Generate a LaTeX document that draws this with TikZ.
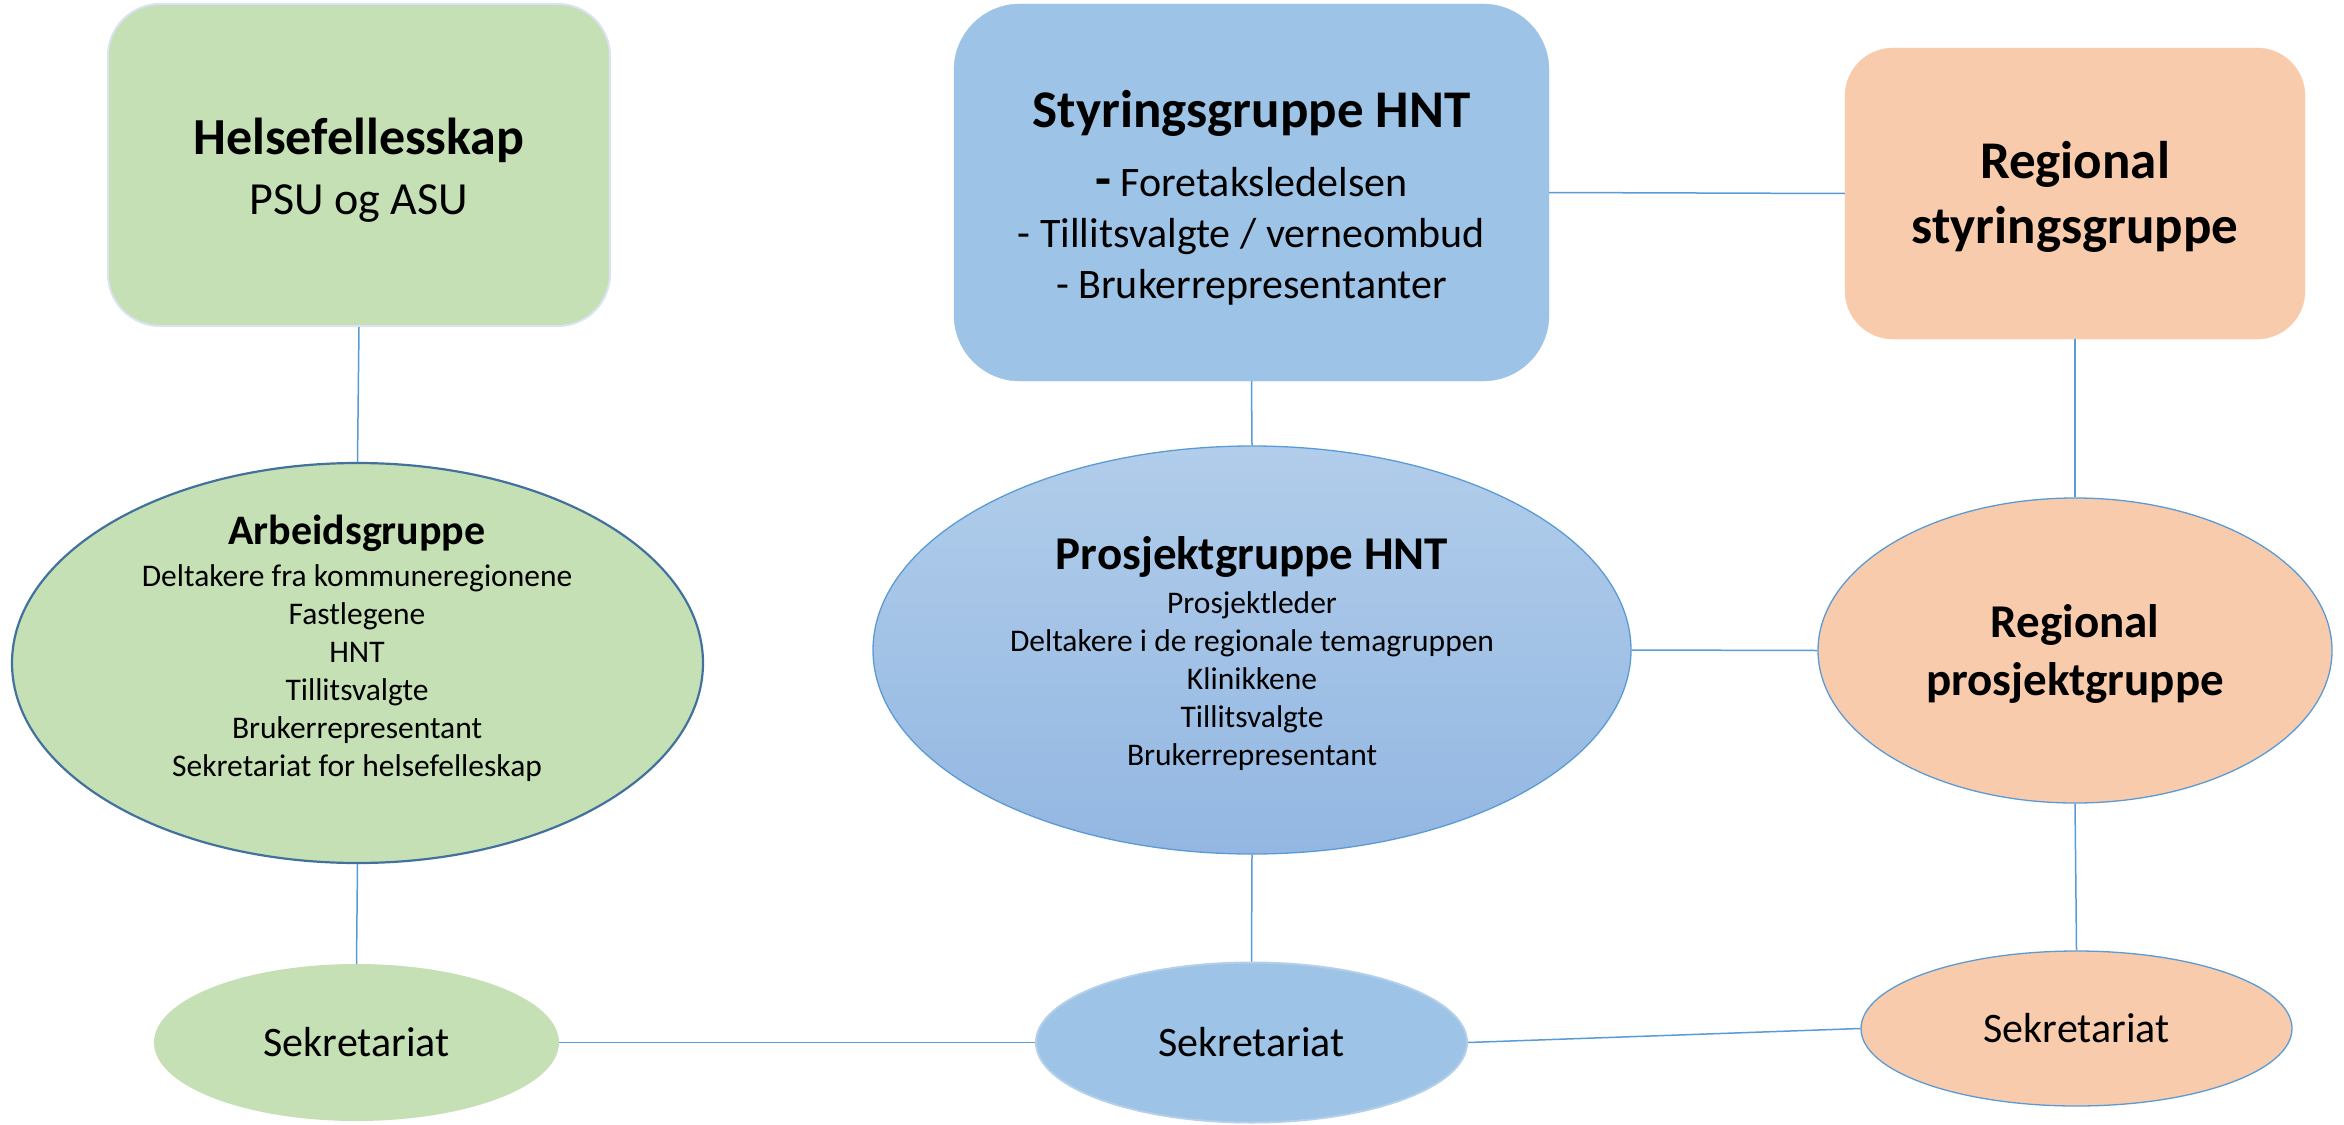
\documentclass[tikz,border=0pt]{standalone}
\usepackage{fontspec}
\setmainfont{Carlito}
\usetikzlibrary{shapes.geometric}
\definecolor{gfill}{HTML}{C5E0B4}
\definecolor{bfill}{HTML}{9DC3E6}
\definecolor{ofill}{HTML}{F8CBAD}
\definecolor{lblue}{HTML}{5B9BD5}
\definecolor{dblue}{HTML}{41719C}
\definecolor{paleblue}{HTML}{DAE3F3}
\definecolor{protop}{HTML}{B1CDEA}
\definecolor{probot}{HTML}{93B7E2}
\definecolor{sekbline}{HTML}{B4CFEA}
\begin{document}
\begin{tikzpicture}[x=1pt,y=-1pt,
  rbox/.style={rectangle,inner sep=0pt},
  ell/.style={ellipse,inner sep=0pt},
  conn/.style={draw=lblue,line width=1.5pt},
  txt/.style={align=center,inner sep=0pt,text=black}]
\useasboundingbox (0,0) rectangle (2344,1124);
% top row boxes
\node[rbox,fill=gfill,draw=paleblue,line width=2pt,rounded corners=52pt,minimum width=502pt,minimum height=322pt] (helse) at (359,165) {};
\node[rbox,fill=bfill,draw=bfill,rounded corners=66pt,minimum width=595pt,minimum height=377pt] (styr) at (1251.5,192.5) {};
\node[rbox,fill=ofill,draw=ofill,rounded corners=48pt,minimum width=460pt,minimum height=291pt] (regS) at (2075,193.5) {};
% middle row ellipses
\node[ell,fill=gfill,draw=dblue,line width=2.2pt,minimum width=691pt,minimum height=400pt] (arb) at (357.5,663) {};
\node[ell,top color=protop,bottom color=probot,draw=lblue,line width=1.3pt,minimum width=758pt,minimum height=408pt] (pro) at (1252,650) {};
\node[ell,fill=ofill,draw=lblue,line width=1.3pt,minimum width=514pt,minimum height=305pt] (regP) at (2075,650.5) {};
% bottom row ellipses
\node[ell,fill=gfill,minimum width=405pt,minimum height=157pt] (sekG) at (356.5,1042.5) {};
\node[ell,fill=bfill,draw=sekbline,line width=2pt,minimum width=431pt,minimum height=160pt] (sekB) at (1251.5,1042.5) {};
\node[ell,fill=ofill,draw=lblue,line width=1.3pt,minimum width=431pt,minimum height=155pt] (sekO) at (2076.5,1028.5) {};
% texts
\node[txt,font=\fontsize{46}{60}\selectfont] (helseT) at (359,170) {{\bfseries\fontsize{52}{60}\selectfont Helsefellesskap}\\PSU og ASU};
\node[txt,font=\fontsize{42}{51}\selectfont] (styrT) at (1251.5,198) {{\bfseries\fontsize{53}{60}\selectfont Styringsgruppe HNT}\\[18pt]{\bfseries\fontsize{52}{51}\selectfont -} Foretaksledelsen\\- Tillitsvalgte / verneombud\\- Brukerrepresentanter};
\node[txt,font=\bfseries\fontsize{53}{65}\selectfont] (regST) at (2075,197) {Regional\\styringsgruppe};
\node[txt,font=\fontsize{31.5}{38}\selectfont] (arbT) at (357,648) {{\bfseries\fontsize{42}{42}\selectfont Arbeidsgruppe}\\[4pt]Deltakere fra kommuneregionene\\Fastlegene\\HNT\\Tillitsvalgte\\Brukerrepresentant\\Sekretariat for helsefelleskap};
\node[txt,font=\fontsize{31.5}{38}\selectfont] (proT) at (1252,654) {{\bfseries\fontsize{47}{47}\selectfont Prosjektgruppe HNT}\\[6pt]Prosjektleder\\Deltakere i de regionale temagruppen\\Klinikkene\\Tillitsvalgte\\Brukerrepresentant};
\node[txt,font=\bfseries\fontsize{47}{58}\selectfont] (regPT) at (2075,654) {Regional\\prosjektgruppe};
\node[txt,font=\fontsize{42}{50}\selectfont] (sekGT) at (sekG) {Sekretariat};
\node[txt,font=\fontsize{42}{50}\selectfont] (sekBT) at (sekB) {Sekretariat};
\node[txt,font=\fontsize{42}{50}\selectfont] (sekOT) at (sekO) {Sekretariat};
% connectors
\draw[conn] (helse.south) -- (arb.north);
\draw[conn] (arb.south) -- (sekG.north);
\draw[conn] (sekG.east) -- (sekB.west);
\draw[conn] (styr.south) -- (pro.north);
\draw[conn] (styr.east) -- (regS.west);
\draw[conn] (regS.south) -- (regP.north);
\draw[conn] (pro.east) -- (regP.west);
\draw[conn] (pro.south) -- (sekB.north);
\draw[conn] (regP.south) -- (sekO.north);
\draw[conn] (sekB.east) -- (sekO.west);
\end{tikzpicture}
\end{document}
